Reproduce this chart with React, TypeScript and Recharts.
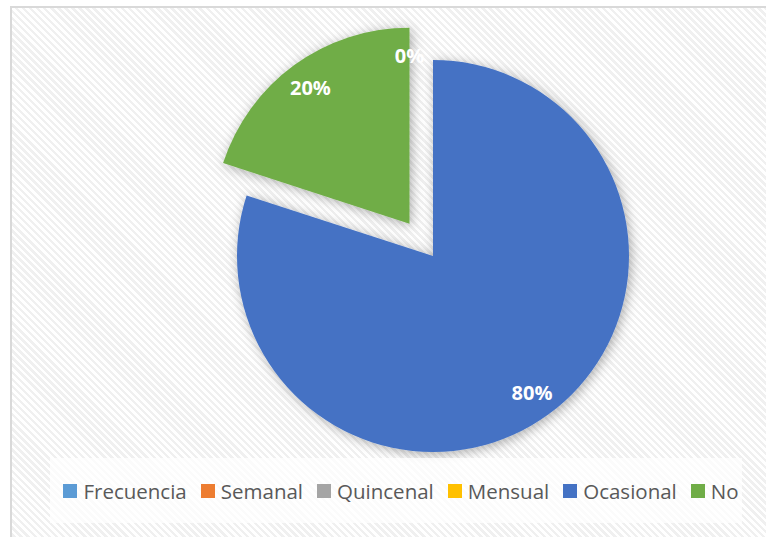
import React from 'react'
import { PieChart, Pie, Cell, Legend, Sector } from 'recharts'

const categories = ['Frecuencia', 'Semanal', 'Quincenal', 'Mensual', 'Ocasional', 'No']
const values = [0, 0, 0, 0, 80, 20]
const colors = ['#5B9BD5', '#ED7D31', '#A5A5A5', '#FFC000', '#4472C4', '#70AD47']
const explodedNames = ['No']

const data = categories.map((name, i) => ({ name, value: values[i] }))

const RADIAN = Math.PI / 180
const EXPLODE = 40
const FONT = '"Open Sans", "Noto Sans", sans-serif'

// mid angle of a slice (recharts convention, clockwise from 12 o'clock)
const total = values.reduce((a, b) => a + b, 0)
function midAngleOf(name: string) {
  const idx = categories.indexOf(name)
  const before = values.slice(0, idx).reduce((a, b) => a + b, 0)
  return 90 - ((before + values[idx] / 2) / total) * 360
}

function offsetFor(midAngle: number) {
  return {
    dx: EXPLODE * Math.cos(-midAngle * RADIAN),
    dy: EXPLODE * Math.sin(-midAngle * RADIAN),
  }
}

const renderShape = (props: any) => {
  const name = props.payload?.name ?? props.name
  if (explodedNames.includes(name)) {
    const { dx, dy } = offsetFor(props.midAngle)
    return <Sector {...props} cx={props.cx + dx} cy={props.cy + dy} />
  }
  return <Sector {...props} />
}

const renderLabel = (props: any) => {
  const { cx, cy, midAngle, outerRadius, value, index, name } = props
  let angle = midAngle
  let off = { dx: 0, dy: 0 }
  if (value === 0) {
    if (index !== 0) return null
    off = offsetFor(midAngleOf('No'))
    angle = 90
  } else if (explodedNames.includes(name)) {
    off = offsetFor(midAngle)
  }
  const r = outerRadius * 0.86
  const x = cx + off.dx + r * Math.cos(-angle * RADIAN)
  const y = cy + off.dy + r * Math.sin(-angle * RADIAN)
  return (
    <text
      x={x}
      y={y}
      fill="#FFFFFF"
      textAnchor="middle"
      dominantBaseline="central"
      fontFamily={FONT}
      fontWeight={700}
      fontSize={20}
    >
      {Math.round((value / total) * 100)}%
    </text>
  )
}

const renderLegend = () => (
  <div
    style={{
      display: 'flex',
      alignItems: 'center',
      justifyContent: 'center',
      height: 65,
      paddingLeft: 10,
      boxSizing: 'border-box',
      background: 'rgba(255,255,255,0.75)',
      fontFamily: FONT,
      fontSize: 20.5,
      color: '#595959',
    }}
  >
    {categories.map((c, i) => (
      <div key={c} style={{ display: 'flex', alignItems: 'center', marginRight: i < categories.length - 1 ? 14 : 0 }}>
        <span style={{ width: 14, height: 14, background: colors[i], marginRight: 6, display: 'inline-block' }} />
        <span>{c}</span>
      </div>
    ))}
  </div>
)

export default function App() {
  return (
    <div style={{ position: 'absolute', left: 0, top: 0, width: 766, height: 537, overflow: 'hidden', background: '#fff' }}>
      <svg width={0} height={0} style={{ position: 'absolute' }}>
        <defs>
          <filter id="pieShadow" x="-20%" y="-20%" width="140%" height="140%">
            <feDropShadow dx={2} dy={2} stdDeviation={6} floodColor="#000" floodOpacity={0.32} />
          </filter>
        </defs>
      </svg>
      <div
        style={{
          position: 'absolute',
          left: 10,
          top: 6,
          width: 780,
          height: 560,
          borderLeft: '2px solid #d9d9d9',
          borderTop: '2px solid #d9d9d9',
          background:
            'repeating-linear-gradient(45deg, #ffffff 0px, #ffffff 2.5px, #f0f0f0 2.5px, #f0f0f0 5px)',
        }}
      />
      <div style={{ position: 'absolute', left: 0, top: 0 }}>
        <PieChart width={766} height={537} margin={{ top: 0, right: 0, bottom: 0, left: 0 }}>
          <Pie
            data={data}
            dataKey="value"
            nameKey="name"
            cx={433}
            cy={256}
            outerRadius={196}
            startAngle={90}
            endAngle={-270}
            stroke="none"
            shape={renderShape}
            label={renderLabel}
            labelLine={false}
            isAnimationActive={false}
            style={{ filter: 'url(#pieShadow)' }}
          >
            {data.map((d, i) => (
              <Cell key={d.name} fill={colors[i]} />
            ))}
          </Pie>
          <Legend
            verticalAlign="bottom"
            content={renderLegend}
            wrapperStyle={{ left: 50, top: 458, bottom: 'auto', width: 692, height: 65 }}
          />
        </PieChart>
      </div>
    </div>
  )
}
